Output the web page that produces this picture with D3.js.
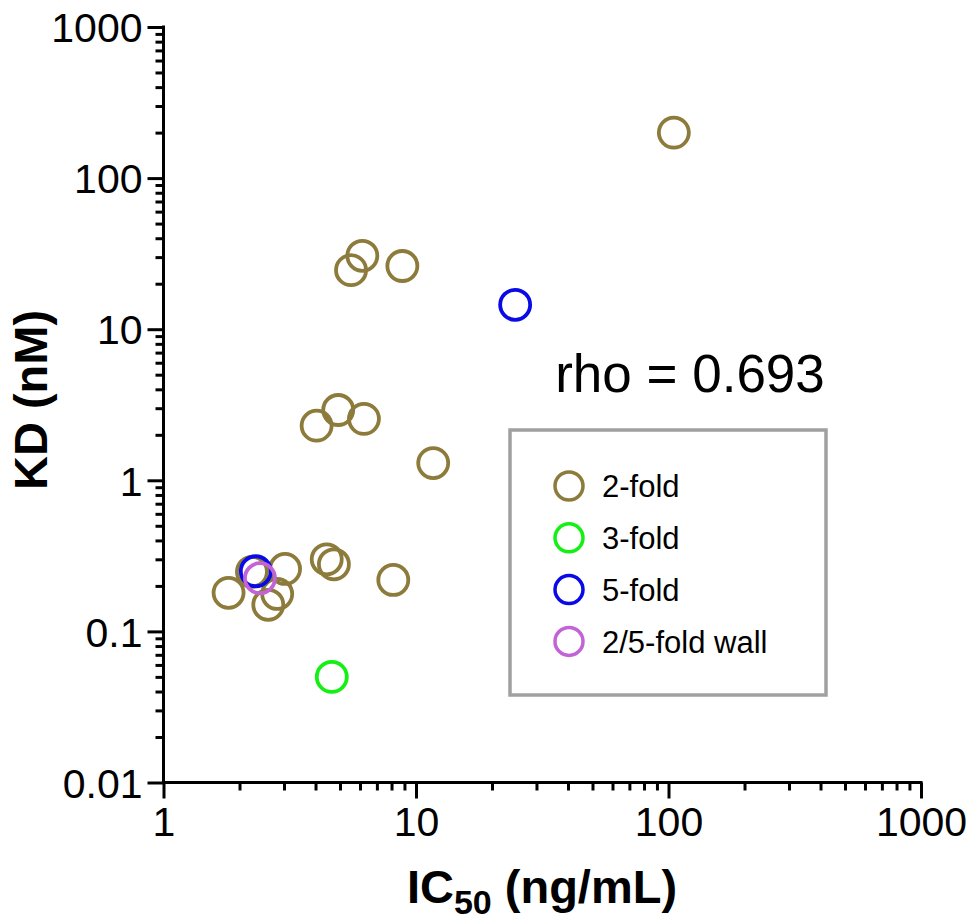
<!DOCTYPE html>
<html>
<head>
<meta charset="utf-8">
<script src="https://cdn.jsdelivr.net/npm/d3@7"></script>
<style>
  html, body { margin: 0; padding: 0; background: #fff; }
  svg { display: block; font-family: "Liberation Sans", Arial, Helvetica, sans-serif; }
</style>
</head>
<body>
<svg id="chart" width="972" height="924"></svg>
<script>
// IC50 vs KD, grouped by binding site
const twoFoldIC50 = [105, 5.53, 6.13, 8.83, 4.04, 4.92, 6.22, 11.7, 1.81, 3.03, 2.82, 2.60, 4.43, 4.73, 8.13, 2.24];
const twoFoldKD   = [200, 24.6, 30.6, 26.2, 2.30, 2.92, 2.55, 1.30, 0.180, 0.259, 0.177, 0.150, 0.300, 0.278, 0.219, 0.248];
const threeFoldIC50 = [4.64];
const threeFoldKD   = [0.050];
const fiveFoldIC50 = [24.7, 2.32];
const fiveFoldKD   = [14.5, 0.250];
const wallIC50 = [2.41];
const wallKD   = [0.225];

const seriesNames  = ["2-fold", "3-fold", "5-fold", "2/5-fold wall"];
const seriesColors = ["#8c7b3a", "#14f014", "#0a0ae6", "#c263d6"];

const xTickValues = [1, 10, 100, 1000];
const xTickLabels = ["1", "10", "100", "1000"];
const yTickValues = [0.01, 0.1, 1, 10, 100, 1000];
const yTickLabels = ["0.01", "0.1", "1", "10", "100", "1000"];

const rhoText = "rho = 0.693";

const series = [
  { name: seriesNames[0], color: seriesColors[0], xs: twoFoldIC50, ys: twoFoldKD },
  { name: seriesNames[1], color: seriesColors[1], xs: threeFoldIC50, ys: threeFoldKD },
  { name: seriesNames[2], color: seriesColors[2], xs: fiveFoldIC50, ys: fiveFoldKD },
  { name: seriesNames[3], color: seriesColors[3], xs: wallIC50, ys: wallKD }
];

const svg = d3.select("#chart");

const x = d3.scaleLog().domain([1, 1000]).range([163.5, 921]);
const y = d3.scaleLog().domain([0.01, 1000]).range([782.5, 27]);

// minor + major tick values for each decade
function logTicks(lo, hi) {
  const out = [];
  for (let p = Math.log10(lo); p < Math.log10(hi); p++) {
    for (let m = 1; m < 10; m++) out.push(m * Math.pow(10, p));
  }
  out.push(hi);
  return out;
}
const isMajor = v => Math.abs(Math.log10(v) - Math.round(Math.log10(v))) < 1e-9;

const axisStroke = 3;
const majorLen = 16, minorLen = 8;
const tickFont = 41;

// X axis
const xAxis = d3.axisBottom(x)
  .tickValues(logTicks(1, 1000))
  .tickSizeInner(majorLen)
  .tickSizeOuter(0)
  .tickFormat(v => {
    const i = xTickValues.findIndex(t => Math.abs(t - v) < 1e-9);
    return i >= 0 ? xTickLabels[i] : "";
  });
const gx = svg.append("g").attr("transform", `translate(0,${y(0.01)})`).call(xAxis);
gx.select(".domain").attr("stroke", "#000").attr("stroke-width", axisStroke)
  .attr("d", `M${x(1) - 1.5},0H${x(1000) + 1.5}`);
gx.selectAll(".tick line").attr("stroke", "#000").attr("stroke-width", axisStroke)
  .attr("y2", d => isMajor(d) ? majorLen : minorLen);
gx.selectAll(".tick text").attr("fill", "#000").attr("font-size", tickFont)
  .attr("y", 24).attr("dy", "0.71em");

// Y axis
const yAxis = d3.axisLeft(y)
  .tickValues(logTicks(0.01, 1000))
  .tickSizeInner(majorLen)
  .tickSizeOuter(0)
  .tickFormat(v => {
    const i = yTickValues.findIndex(t => Math.abs(t / v - 1) < 1e-6);
    return i >= 0 ? yTickLabels[i] : "";
  });
const gy = svg.append("g").attr("transform", `translate(${x(1)},0)`).call(yAxis);
gy.select(".domain").attr("stroke", "#000").attr("stroke-width", axisStroke)
  .attr("d", `M0,${y(1000) - 1.5}V${y(0.01) + 1.5}`);
gy.selectAll(".tick line").attr("stroke", "#000").attr("stroke-width", axisStroke)
  .attr("x2", d => isMajor(d) ? -majorLen : -minorLen);
gy.selectAll(".tick text").attr("fill", "#000").attr("font-size", tickFont)
  .attr("x", -21).attr("dy", "0.36em");

// Axis titles
const xt = svg.append("text")
  .attr("x", 542).attr("y", 903)
  .attr("text-anchor", "middle")
  .attr("font-size", 47).attr("font-weight", "bold").attr("fill", "#000");
xt.append("tspan").text("IC");
xt.append("tspan").attr("font-size", 34).attr("dy", 11).text("50");
xt.append("tspan").attr("dy", -11).text(" (ng/mL)");

svg.append("text")
  .attr("transform", `translate(47,400) rotate(-90)`)
  .attr("text-anchor", "middle")
  .attr("font-size", 47).attr("font-weight", "bold").attr("fill", "#000")
  .text("KD (nM)");

// Data points: open circles
const pointR = 15, pointStroke = 3.8;
series.forEach(s => {
  svg.append("g").selectAll("circle")
    .data(s.xs.map((v, i) => [v, s.ys[i]]))
    .join("circle")
    .attr("cx", d => x(d[0]))
    .attr("cy", d => y(d[1]))
    .attr("r", pointR)
    .attr("fill", "none")
    .attr("stroke", s.color)
    .attr("stroke-width", pointStroke);
});

// Correlation annotation
svg.append("text")
  .attr("x", 690).attr("y", 392)
  .attr("text-anchor", "middle")
  .attr("font-size", 53).attr("fill", "#000")
  .text(rhoText);

// Legend
const legend = svg.append("g");
legend.append("rect")
  .attr("x", 510).attr("y", 430).attr("width", 316).attr("height", 265)
  .attr("fill", "#fff").attr("stroke", "#a0a0a0").attr("stroke-width", 3.5);
const legendRows = legend.selectAll("g.row")
  .data(series)
  .join("g").attr("class", "row")
  .attr("transform", (d, i) => `translate(569,${486 + i * 51.8})`);
legendRows.append("circle")
  .attr("r", 14).attr("fill", "none")
  .attr("stroke", d => d.color).attr("stroke-width", 3.5);
legendRows.append("text")
  .attr("x", 33).attr("dy", "0.36em")
  .attr("font-size", 31).attr("fill", "#000")
  .text(d => d.name);
</script>
</body>
</html>
